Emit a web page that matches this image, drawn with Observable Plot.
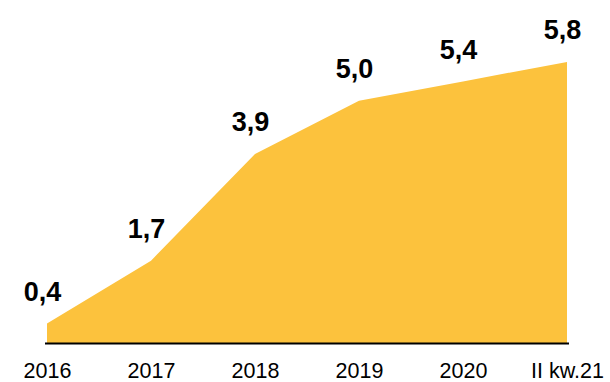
<!DOCTYPE html>
<html>
<head>
<meta charset="utf-8">
<script src="https://cdn.jsdelivr.net/npm/d3@7"></script>
<script src="https://cdn.jsdelivr.net/npm/@observablehq/plot@0.6"></script>
<style>
  html, body { margin: 0; padding: 0; background: #fff; }
  svg { overflow: visible; }
</style>
</head>
<body>
<div id="chart"></div>
<script>
const categories = ["2016", "2017", "2018", "2019", "2020", "II kw.21"];
const values = [0.4, 1.7, 3.9, 5.0, 5.4, 5.8];
const labels = ["0,4", "1,7", "3,9", "5,0", "5,4", "5,8"];

const data = categories.map((c, i) => ({cat: c, value: values[i], label: labels[i]}));

const chart = Plot.plot({
  width: 610,
  height: 382,
  marginLeft: 45,
  marginRight: 41,
  marginTop: 62,
  marginBottom: 39,
  style: {fontFamily: "'Liberation Sans', Arial, sans-serif", background: "#fff", overflow: "visible"},
  x: {type: "point", domain: categories, padding: 0, label: null},
  y: {domain: [0, 5.8], axis: null},
  marks: [
    Plot.areaY(data, {x: "cat", y: "value", fill: "#FCC23D"}),
    Plot.ruleY([0], {stroke: "#000", strokeWidth: 2.2}),
    Plot.axisX({tickSize: 0, tickPadding: 19, fontSize: 21.5, label: null, fill: "#000"}),
    Plot.text(data, {x: "cat", y: "value", text: "label", dy: -32, dx: -5, fontSize: 27, fontWeight: "bold", fill: "#000"})
  ]
});
document.getElementById("chart").append(chart);
</script>
</body>
</html>
